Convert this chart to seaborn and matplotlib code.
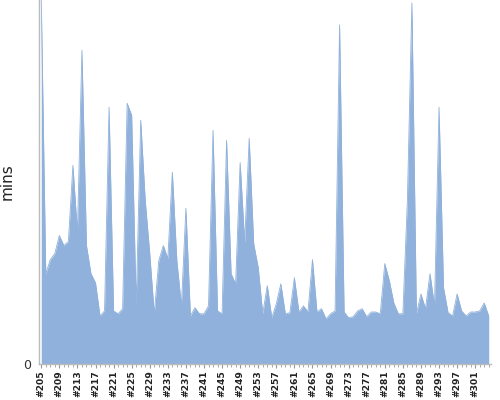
import seaborn as sns
import matplotlib.pyplot as plt
from matplotlib.ticker import MultipleLocator
import pandas as pd

sns.set_style("white")

# ----------- Build durations (mins) per build number -----------
builds = [f"#{n}" for n in range(205, 305)]
mins = [
    100.8, 25.0, 28.9, 30.6, 35.6, 32.8, 33.9, 55.0, 36.4, 86.9,
    32.8, 25.0, 22.5, 13.3, 14.7, 71.1, 14.7, 13.9, 15.3, 72.2,
    68.9, 16.1, 67.5, 45.3, 30.6, 13.9, 28.6, 32.8, 29.2, 53.1,
    28.6, 16.1, 43.1, 13.3, 15.6, 13.9, 13.9, 16.1, 64.7, 14.7,
    13.9, 61.9, 25.0, 22.2, 55.8, 33.6, 62.5, 33.3, 26.7, 13.9,
    21.7, 12.8, 16.7, 22.2, 13.9, 14.2, 23.9, 14.4, 16.1, 14.4,
    28.9, 14.4, 15.3, 12.5, 13.9, 14.7, 93.9, 14.4, 12.8, 13.1,
    14.7, 15.3, 13.1, 14.4, 14.4, 13.9, 27.8, 23.1, 16.9, 13.9,
    13.9, 45.3, 100.0, 13.9, 19.4, 15.3, 25.0, 16.1, 71.1, 21.1,
    14.2, 13.3, 19.4, 14.7, 13.3, 14.4, 14.4, 14.7, 16.9, 13.3,
]

df = pd.DataFrame({"build": builds, "mins": mins})
df["pos"] = range(len(df))

fill = "#8fb1db"

fig = plt.figure(figsize=(5, 4), dpi=100)
ax = fig.add_axes([0.078, 0.09, 0.904, 0.91])

# area: thin line from seaborn, filled underneath
sns.lineplot(data=df, x="pos", y="mins", color=fill, linewidth=0.6, ax=ax)
ax.fill_between(df["pos"], 0, df["mins"], color=fill, linewidth=0)

ax.set_xlim(-0.5, len(df) - 0.5)
ax.set_ylim(0, max(mins))

# x ticks: every build gets a small tick, every 4th gets a label
ax.xaxis.set_minor_locator(MultipleLocator(1))
ax.set_xticks(df["pos"][::4])
ax.set_xticklabels(df["build"][::4], rotation=90, fontsize=6.6,
                   fontweight="bold", color="#222222")
ax.tick_params(axis="x", which="major", length=3, width=0.8, color="#999999",
               pad=1.5, bottom=True)
ax.tick_params(axis="x", which="minor", length=2, width=0.6, color="#999999",
               bottom=True)

ax.set_yticks([0])
ax.set_yticklabels(["0"], fontsize=9, color="#333333")
ax.tick_params(axis="y", length=0, pad=6)

ax.set_xlabel("")
ax.set_ylabel("mins", fontsize=11, color="#222222")
ax.yaxis.set_label_coords(-0.055, 0.5)

for side in ["top", "right"]:
    ax.spines[side].set_visible(False)
for side in ["left", "bottom"]:
    ax.spines[side].set_color("#bbbbbb")
    ax.spines[side].set_linewidth(1)

plt.savefig("out.png", dpi=100)
